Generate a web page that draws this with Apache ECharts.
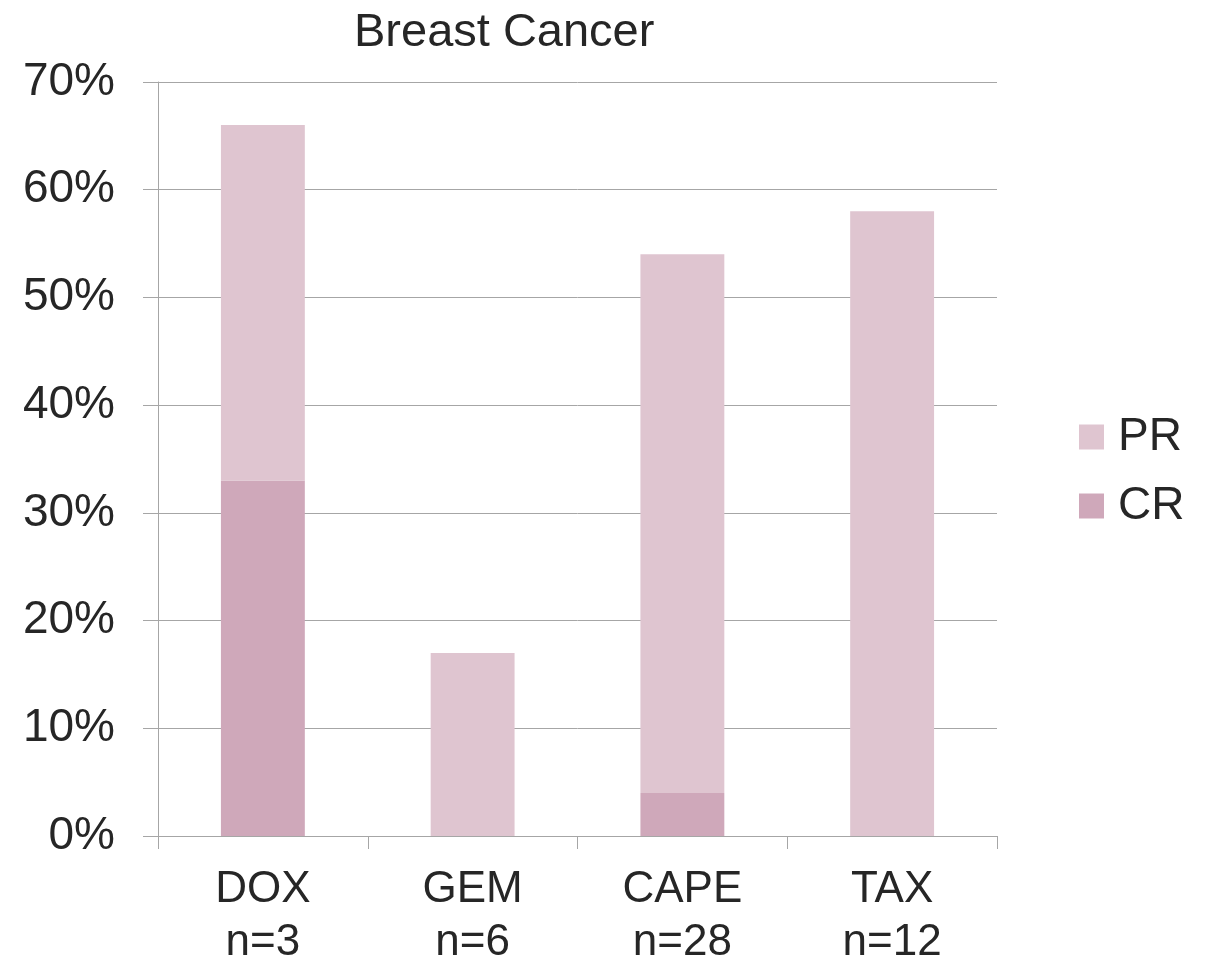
<!DOCTYPE html>
<html>
<head>
<meta charset="utf-8">
<title>Breast Cancer</title>
<script src="https://cdn.jsdelivr.net/npm/echarts@6/dist/echarts.min.js"></script>
<style>
  html, body { margin: 0; padding: 0; background: #ffffff; }
  #chart { width: 1206px; height: 961px; }
</style>
</head>
<body>
<div id="chart"></div>
<script>
// Response rates (%) by regimen, stacked: complete response below partial response
const categories = ['DOX\nn=3', 'GEM\nn=6', 'CAPE\nn=28', 'TAX\nn=12'];
const crValues = [33, 0, 4, 0];
const prValues = [33, 17, 50, 58];
const yTicks = { min: 0, max: 70, interval: 10 };

const textColor = '#262626';
const lineColor = '#a6a6a6';
const fontFamily = 'Arial, "Liberation Sans", sans-serif';

const chart = echarts.init(document.getElementById('chart'), null, { renderer: 'canvas' });

chart.setOption({
  backgroundColor: '#ffffff',
  animation: false,
  title: {
    text: 'Breast Cancer',
    left: 349,
    top: 5,
    textStyle: { color: textColor, fontSize: 47, fontWeight: 'normal', fontFamily }
  },
  legend: {
    orient: 'vertical',
    left: 1079,
    top: 413,
    padding: 0,
    itemWidth: 25,
    itemHeight: 25,
    itemGap: 21,
    icon: 'rect',
    data: ['PR', 'CR'],
    textStyle: { color: textColor, fontSize: 46, fontFamily, lineHeight: 48, padding: [0, 0, 0, 9] }
  },
  grid: { left: 158, right: 209, top: 82, bottom: 125, containLabel: false, outerBoundsMode: 'none' },
  xAxis: {
    type: 'category',
    data: categories,
    axisLine: { show: true, lineStyle: { color: lineColor, width: 1 } },
    axisTick: { show: true, length: 13, alignWithLabel: false, lineStyle: { color: lineColor } },
    axisLabel: { color: textColor, fontSize: 44, fontFamily, lineHeight: 53, margin: 27, interval: 0 },
    splitLine: { show: false }
  },
  yAxis: {
    type: 'value',
    min: yTicks.min,
    max: yTicks.max,
    interval: yTicks.interval,
    axisLine: { show: true, lineStyle: { color: lineColor, width: 1 } },
    axisTick: { show: true, length: 15, lineStyle: { color: lineColor } },
    axisLabel: { color: textColor, fontSize: 46, fontFamily, margin: 43, formatter: '{value}%' },
    splitLine: { show: true, lineStyle: { color: lineColor, width: 1 } }
  },
  series: [
    {
      name: 'CR',
      type: 'bar',
      stack: 'resp',
      barWidth: '40%',
      data: crValues,
      itemStyle: { color: '#cfa8ba' }
    },
    {
      name: 'PR',
      type: 'bar',
      stack: 'resp',
      barWidth: '40%',
      data: prValues,
      itemStyle: { color: '#dfc5d0' }
    }
  ]
});
</script>
</body>
</html>
